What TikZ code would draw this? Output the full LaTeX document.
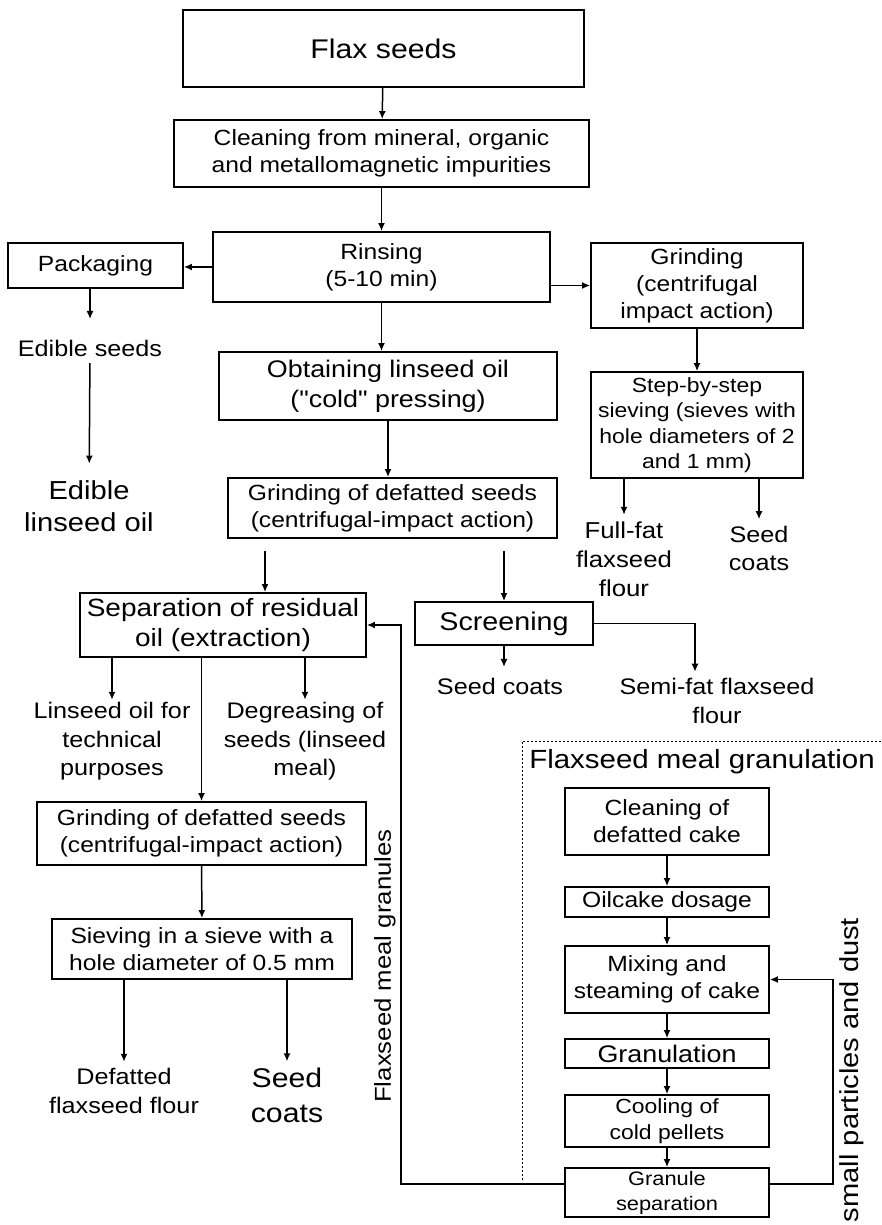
\documentclass[tikz,border=0pt]{standalone}
\usepackage{fontspec}
\setmainfont{Liberation Sans}[FakeStretch=1.12, Ligatures=TeXOff]
\usetikzlibrary{positioning,arrows.meta}

\begin{document}
\begin{tikzpicture}[
    x=1pt, y=-1pt, line width=1.5pt,
    font=\fontsize{22}{27}\selectfont,
    box/.style n args={2}{draw, line width=1.8pt, align=center, inner sep=0pt,
      minimum width=#1pt, minimum height=#2pt},
    lbl/.style={align=center, inner sep=6pt, font=\fontsize{22.5}{28.5}\selectfont},
    arr/.style={-{Latex[length=8pt,width=7pt]}},
    big/.style={font=\fontsize{25}{30}\selectfont},
    small/.style={font=\fontsize{20.5}{25.5}\selectfont}]
  \useasboundingbox (0,0) rectangle (882,1225);

  % main line
  \node[box={401}{77}, font=\fontsize{27}{32}\selectfont] (box-flax) at (383.5,48.5) {Flax seeds};
  \node[box={415}{67}] (box-clean) at (381.5,153.5) {Cleaning from mineral, organic\\and metallomagnetic impurities};
  \node[box={337}{70}] (box-rinse) at (381.5,267) {Rinsing\\(5-10 min)};
  \node[box={175}{45}] (box-pack) at (95.5,265.5) {Packaging};
  \node[box={212}{85}] (box-grind1) at (697,285.5) {Grinding\\(centrifugal\\impact action)};
  \node[box={338}{68}, font=\fontsize{24}{30}\selectfont] (box-oil) at (388,386) {Obtaining linseed oil\\("cold" pressing)};
  \node[box={212}{106}, small] (box-sieve1) at (697,425) {Step-by-step\\sieving (sieves with\\hole diameters of 2\\and 1 mm)};
  \node[box={329}{60}] (box-grind2) at (392.5,508) {Grinding of defatted seeds\\(centrifugal-impact action)};
  \node[box={286}{64}, big] (box-sep) at (223,625) {Separation of residual\\oil (extraction)};
  \node[box={178}{43}, font=\fontsize{25.6}{30}\selectfont] (box-screen) at (504,623.5) {Screening};
  \node[box={329}{63}] (box-grind3) at (201.5,833.5) {Grinding of defatted seeds\\(centrifugal-impact action)};
  \node[box={300}{60}] (box-sieve2) at (202,949) {Sieving in a sieve with a\\hole diameter of 0.5 mm};

  % products
  \node[lbl] (out-edseeds) at (90,348) {Edible seeds};
  \node[lbl, font=\fontsize{26}{32}\selectfont, inner sep=16pt] (out-edoil) at (89,506) {Edible\\linseed oil};
  \node[lbl, font=\fontsize{23}{29}\selectfont] (out-fullfat) at (624,559) {Full-fat\\flaxseed\\flour};
  \node[lbl] (out-coats1) at (759,548.5) {Seed\\coats};
  \node[lbl, inner sep=10pt] (out-coats2) at (500,686) {Seed coats};
  \node[lbl] (out-semifat) at (717,701) {Semi-fat flaxseed\\flour};
  \node[lbl, inner sep=2pt] (out-techoil) at (112,741.5) {Linseed oil for\\technical\\purposes};
  \node[lbl, inner sep=2pt] (out-degr) at (305,741.5) {Degreasing of\\seeds (linseed\\meal)};
  \node[lbl] (out-defatted) at (124,1091) {Defatted\\flaxseed flour};
  \node[lbl, font=\fontsize{27}{35}\selectfont] (out-coats3) at (287,1095.5) {Seed\\coats};

  % granulation block
  \draw[dash pattern=on 2pt off 2pt, line width=1pt] (522,1180) |- (882,741);
  \node[font=\fontsize{26.3}{30}\selectfont] (txt-gran) at (702,762) {Flaxseed meal granulation};
  \node[box={204}{67}] (g-cake) at (667,821.5) {Cleaning of\\defatted cake};
  \node[box={204}{30}] (g-dose) at (667,902) {Oilcake dosage};
  \node[box={204}{67}] (g-mix) at (667,979.5) {Mixing and\\steaming of cake};
  \node[box={204}{29}, font=\fontsize{24}{28}\selectfont] (g-gran) at (667,1053.5) {Granulation};
  \node[box={204}{52}, small] (g-cool) at (667,1121) {Cooling of\\cold pellets};
  \node[box={204}{49}, font=\fontsize{19.5}{25}\selectfont] (g-gsep) at (667,1192.5) {Granule\\separation};
  \node[font=\fontsize{23}{28}\selectfont, rotate=90] (txt-granules) at (385,966) {Flaxseed meal granules};
  \node[font=\fontsize{26}{30}\selectfont, rotate=90] (txt-dust) at (852,1070) {small particles and dust};

  % connections
  \draw[arr] (box-flax) -- (box-clean);
  \draw[arr] (box-clean) -- (box-rinse);
  \draw[arr] (box-rinse.west) -- (box-rinse.west -| box-pack.east);
  \draw[arr] (box-rinse.east |- box-grind1) -- (box-grind1.west);
  \draw[arr, shorten >=14pt] (box-pack.south -| out-edseeds) -- (out-edseeds);
  \draw[arr] (out-edseeds) -- (out-edoil);
  \draw[arr] (box-rinse) -- (box-rinse |- box-oil.north);
  \draw[arr] (box-grind1) -- (box-sieve1);
  \draw[arr] (box-sieve1.south -| out-fullfat) -- (out-fullfat);
  \draw[arr] (box-sieve1.south -| out-coats1) -- (out-coats1);
  \draw[arr] (box-oil) -- (box-oil |- box-grind2.north);
  \draw[arr, shorten <=12pt] ([xshift=42pt]box-sep.north |- box-grind2.south) -- ([xshift=42pt]box-sep.north);
  \draw[arr, shorten <=12pt] (box-screen.north |- box-grind2.south) -- (box-screen.north);
  \draw[arr] (box-screen.east) -| ([xshift=-22pt]out-semifat.north);
  \draw[arr] (box-screen.south) -- (box-screen.south |- out-coats2.north);
  \draw[arr] (box-sep.south -| out-techoil) -- (out-techoil);
  \draw[arr] (box-sep.south -| out-degr) -- (out-degr);
  \draw[arr] (box-sep.south -| box-grind3) -- (box-grind3.north);
  \draw[arr] (box-grind3) -- (box-sieve2);
  \draw[arr] (box-sieve2.south -| out-defatted) -- (out-defatted);
  \draw[arr] (box-sieve2.south -| out-coats3) -- (out-coats3);
  \foreach \a/\b in {cake/dose, dose/mix, mix/gran, gran/cool, cool/gsep}
  \draw[arr] (g-\a) -- (g-\b);
  \draw[arr] ([yshift=8.5pt]g-gsep.west) -- ++(-163,0) |- (box-sep.east);
  \draw[arr] ([yshift=8.5pt]g-gsep.east) -- ++(63,0) |- (g-mix.east);
\end{tikzpicture}
\end{document}
